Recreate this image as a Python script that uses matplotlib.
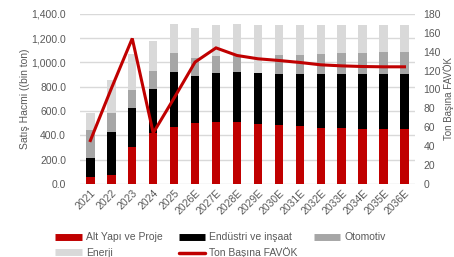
import matplotlib.pyplot as plt
from matplotlib.lines import Line2D
from matplotlib.ticker import FuncFormatter

plt.rcParams['font.family'] = ['Liberation Sans', 'DejaVu Sans']

years = ['2021', '2022', '2023', '2024', '2025', '2026E', '2027E', '2028E',
         '2029E', '2030E', '2031E', '2032E', '2033E', '2034E', '2035E', '2036E']

# satis hacmi (bin ton), segment values
alt_yapi = [55, 78, 303, 421, 469, 504, 512, 512, 491, 485, 474, 458, 458, 452, 452, 452]
endustri = [163, 347, 323, 359, 452, 386, 400, 409, 421, 419, 430, 446, 446, 452, 452, 452]
otomotiv = [226, 162, 148, 146, 153, 143, 138, 129, 0, 154, 154, 165, 171, 171, 179, 179]
enerji = [143, 270, 295, 248, 240, 251, 259, 270, 394, 248, 248, 237, 231, 231, 223, 223]

# ton basina FAVOK (right axis)
favok = [46, 101, 154, 54, 91, 129, 144, 136, 132.5, 130.7, 128.6, 126.1, 125, 124.3, 124, 124]

red = '#C00000'
black = '#000000'
gray = '#A6A6A6'
light = '#D9D9D9'
txt = '#595959'

fig = plt.figure(figsize=(4.54, 2.57), dpi=100)
ax = fig.add_axes([0.176, 0.284, 0.738, 0.662])
ax2 = ax.twinx()

x = list(range(len(years)))
w = 0.4
b1 = alt_yapi
b2 = [a + b for a, b in zip(b1, endustri)]
b3 = [a + b for a, b in zip(b2, otomotiv)]

ax.bar(x, alt_yapi, w, color=red, zorder=2)
ax.bar(x, endustri, w, bottom=b1, color=black, zorder=2)
ax.bar(x, otomotiv, w, bottom=b2, color=gray, zorder=2)
ax.bar(x, enerji, w, bottom=b3, color=light, zorder=2)

ax2.plot(x, favok, color=red, lw=2.2, solid_joinstyle='miter', zorder=3)

ax.set_xlim(-0.5, len(years) - 0.5)
ax.set_ylim(0, 1400)
ax.set_yticks(range(0, 1401, 200))
ax.yaxis.set_major_formatter(FuncFormatter(lambda v, p: f'{v:,.1f}'))
ax2.set_ylim(0, 180)
ax2.set_yticks(range(0, 181, 20))

ax.grid(axis='y', color='#D9D9D9', lw=1, zorder=0)
ax.set_axisbelow(True)
for a in (ax, ax2):
    for s in a.spines.values():
        s.set_visible(False)
    a.tick_params(length=0, labelsize=7.5, labelcolor=txt)
ax.tick_params(axis='y', pad=10)
ax2.tick_params(axis='y', pad=6)

ax.set_xticks(x)
ax.set_xticklabels(years, rotation=45, ha='right', rotation_mode='anchor')
ax.tick_params(axis='x', pad=3)

ax.set_ylabel('Satış Hacmi ((bin ton)', fontsize=7.5, color=txt, labelpad=1)
ax2.set_ylabel('Ton Başına FAVÖK', fontsize=7, color=txt, rotation=90)
ax2.yaxis.set_label_coords(1.083, 0.5)

handles = [
    Line2D([], [], color=red, lw=5, solid_capstyle='butt'),
    Line2D([], [], color=light, lw=5, solid_capstyle='butt'),
    Line2D([], [], color=black, lw=5, solid_capstyle='butt'),
    Line2D([], [], color=red, lw=2.5, solid_capstyle='round'),
    Line2D([], [], color=gray, lw=5, solid_capstyle='butt'),
]
labels = ['Alt Yapı ve Proje', 'Enerji', 'Endüstri ve inşaat',
          'Ton Başına FAVÖK', 'Otomotiv']
fig.legend(handles, labels, ncol=3, loc='upper left',
           bbox_to_anchor=(0.113, 0.112), frameon=False, fontsize=7.5,
           labelcolor=txt, handlelength=2.5, handletextpad=0.4,
           columnspacing=1.6, labelspacing=0.5, borderaxespad=0)

fig.savefig('out.png', dpi=100)
